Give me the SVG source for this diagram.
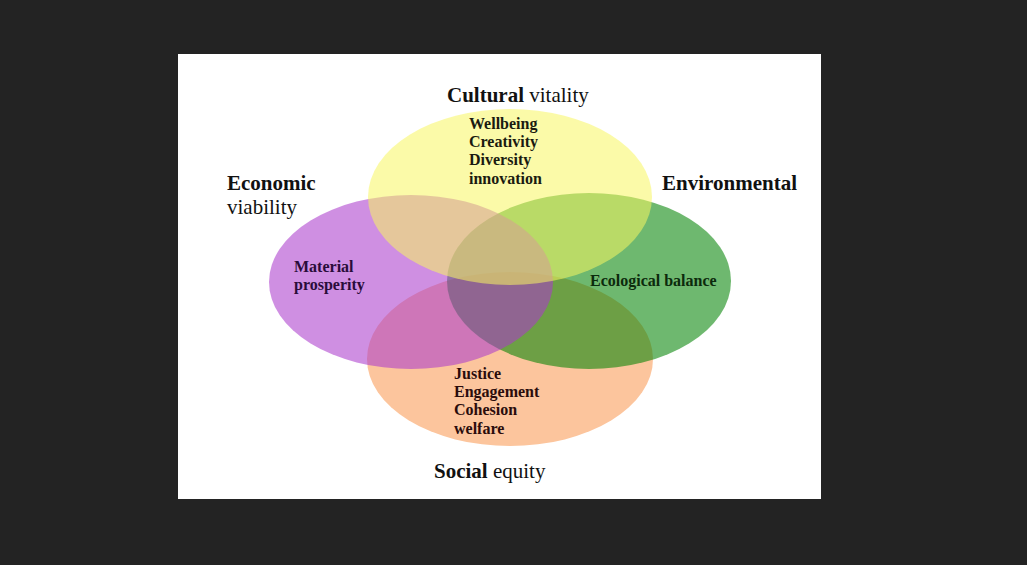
<svg xmlns="http://www.w3.org/2000/svg" width="1027" height="565" viewBox="0 0 1027 565">
<style>
text{font-family:"Liberation Serif","Times New Roman",serif}
.h{font-size:21px;fill:#111}
.b{font-weight:bold}
.it{font-size:16px;font-weight:bold}
</style>
<rect x="0" y="0" width="1027" height="565" fill="#232323"/>
<rect x="178" y="54" width="643" height="445" fill="#ffffff"/>
<g id="social">
<ellipse cx="510" cy="359" rx="143" ry="87" fill="#fcc59d"/>
<g class="it" fill="#2a0c0c">
<text x="454" y="379">Justice</text>
<text x="454" y="397">Engagement</text>
<text x="454" y="415">Cohesion</text>
<text x="454" y="434">welfare</text>
</g>
<text class="h" x="434" y="478"><tspan class="b">Social</tspan> equity</text>
</g>
<g id="environmental">
<ellipse cx="589" cy="281" rx="142" ry="88" fill="#008201" fill-opacity="0.57"/>
<text class="it" x="590" y="286" fill="#0c2a0c">Ecological balance</text>
<text class="h b" x="662" y="190">Environmental</text>
</g>
<g id="economic">
<ellipse cx="411" cy="282" rx="142" ry="87" fill="#ab3acc" fill-opacity="0.57"/>
<text class="it" x="294" y="272" fill="#2a0c3a">Material</text>
<text class="it" x="294" y="290" fill="#2a0c3a">prosperity</text>
<text class="h b" x="227" y="190">Economic</text>
<text class="h" x="227" y="214">viability</text>
</g>
<g id="cultural">
<ellipse cx="510" cy="197" rx="142" ry="88" fill="#f8f661" fill-opacity="0.55"/>
<g class="it" fill="#1a1a10">
<text x="469" y="129">Wellbeing</text>
<text x="469" y="147">Creativity</text>
<text x="469" y="165">Diversity</text>
<text x="469" y="184">innovation</text>
</g>
<text class="h" x="447" y="102"><tspan class="b">Cultural</tspan> vitality</text>
</g>
</svg>
